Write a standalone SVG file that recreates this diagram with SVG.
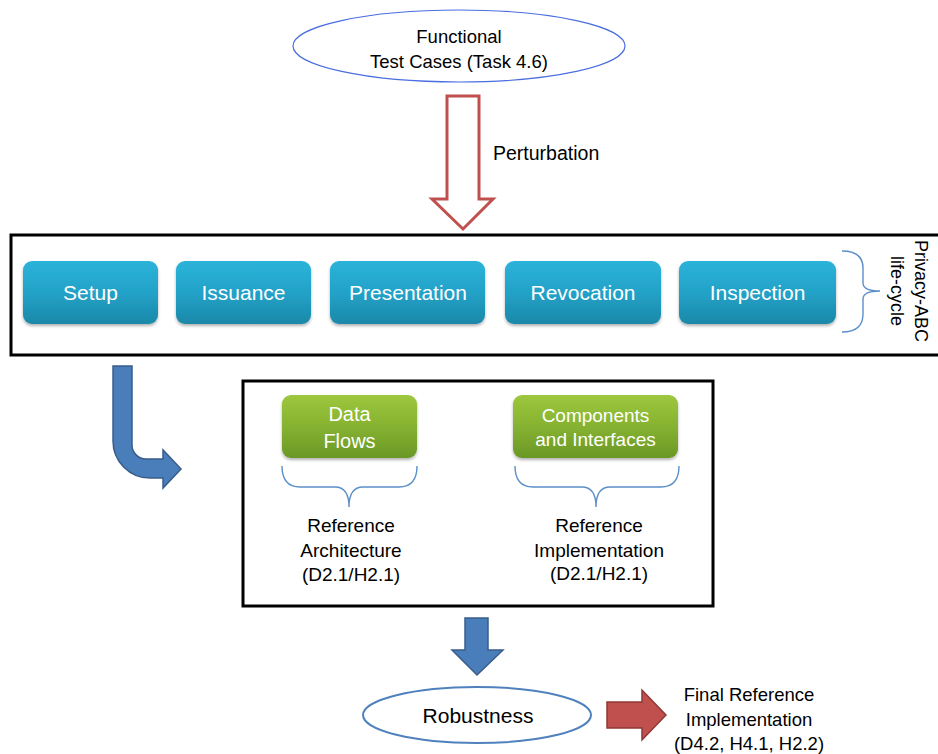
<svg xmlns="http://www.w3.org/2000/svg" width="938" height="754" viewBox="0 0 938 754">
<style>
text{font-family:"Liberation Sans",Arial,sans-serif;fill:#000;text-anchor:middle}
.btn text{fill:#fff;font-size:21px}
.gbtn text{fill:#fff}
.brace{fill:none;stroke:#5b8fc9;stroke-width:1.4}
.frame{fill:none;stroke:#000;stroke-width:3}
</style>
<defs>
<linearGradient id="gBlue" x1="0" y1="0" x2="0" y2="1">
<stop offset="0" stop-color="#2bb3da"/>
<stop offset="0.5" stop-color="#23a2c8"/>
<stop offset="1" stop-color="#1a88a8"/>
</linearGradient>
<linearGradient id="gGreen" x1="0" y1="0" x2="0" y2="1">
<stop offset="0" stop-color="#9dc73d"/>
<stop offset="0.5" stop-color="#86b231"/>
<stop offset="1" stop-color="#6a9826"/>
</linearGradient>
<filter id="sh" x="-10%" y="-10%" width="120%" height="130%">
<feDropShadow dx="0" dy="2" stdDeviation="1.5" flood-color="#000" flood-opacity="0.3"/>
</filter>
</defs>

<g id="functional-test-cases">
<ellipse cx="459" cy="46" rx="166" ry="36" fill="#fff" stroke="#4a6ee0" stroke-width="1.2"/>
<text x="459" y="43" font-size="18.5">Functional</text>
<text x="459" y="68" font-size="18.5">Test Cases (Task 4.6)</text>
</g>

<g id="lifecycle-frame">
<rect class="frame" x="11" y="235" width="940" height="120"/>
</g>

<g id="setup" class="btn">
<rect x="23" y="261" width="135" height="63" rx="9" fill="url(#gBlue)" filter="url(#sh)"/>
<text x="90.5" y="300">Setup</text>
</g>
<g id="issuance" class="btn">
<rect x="176" y="261" width="135" height="63" rx="9" fill="url(#gBlue)" filter="url(#sh)"/>
<text x="243.5" y="300">Issuance</text>
</g>
<g id="presentation" class="btn">
<rect x="330" y="261" width="155" height="63" rx="9" fill="url(#gBlue)" filter="url(#sh)"/>
<text x="408" y="300">Presentation</text>
</g>
<g id="revocation" class="btn">
<rect x="505" y="261" width="156" height="63" rx="9" fill="url(#gBlue)" filter="url(#sh)"/>
<text x="583" y="300">Revocation</text>
</g>
<g id="inspection" class="btn">
<rect x="679" y="261" width="157" height="63" rx="9" fill="url(#gBlue)" filter="url(#sh)"/>
<text x="757.5" y="300">Inspection</text>
</g>

<g id="privacy-abc-lifecycle">
<path class="brace" d="M842,251 Q863,251 863,268 V283 Q863,291 880,291 Q863,291 863,299 V314 Q863,332 842,332"/>
<text transform="translate(915,291) rotate(90)" x="0" y="0" font-size="18">Privacy-ABC</text>
<text transform="translate(891,291) rotate(90)" x="0" y="0" font-size="18">life-cycle</text>
</g>

<g id="reference-frame">
<rect class="frame" x="243" y="381" width="470" height="225"/>
</g>

<g id="data-flows" class="gbtn">
<rect x="282" y="395" width="135" height="63" rx="9" fill="url(#gGreen)" filter="url(#sh)"/>
<text x="349.5" y="421" font-size="20">Data</text>
<text x="349.5" y="448" font-size="20">Flows</text>
</g>
<g id="components-interfaces" class="gbtn">
<rect x="513" y="395" width="165" height="63" rx="9" fill="url(#gGreen)" filter="url(#sh)"/>
<text x="595.5" y="422" font-size="19">Components</text>
<text x="595.5" y="446" font-size="19">and Interfaces</text>
</g>

<g id="reference-architecture">
<path class="brace" d="M282,466 Q282,487 300,487 H335 Q349,487 349,507 Q349,487 363,487 H399 Q417,487 417,466"/>
<text x="351" y="532" font-size="19">Reference</text>
<text x="351" y="557" font-size="19">Architecture</text>
<text x="351" y="581" font-size="19">(D2.1/H2.1)</text>
</g>

<g id="reference-implementation">
<path class="brace" d="M515,466 Q515,487 533,487 H582 Q596,487 596,507 Q596,487 610,487 H661 Q679,487 679,466"/>
<text x="599" y="532" font-size="19">Reference</text>
<text x="599" y="557" font-size="19">Implementation</text>
<text x="599" y="580" font-size="19">(D2.1/H2.1)</text>
</g>

<g id="robustness">
<ellipse cx="477" cy="715" rx="114" ry="28" fill="#fff" stroke="#4f81bd" stroke-width="2"/>
<text x="478" y="723" font-size="21">Robustness</text>
</g>

<g id="final-reference-implementation">
<text x="749" y="701" font-size="18.5">Final Reference</text>
<text x="749" y="726" font-size="18.5">Implementation</text>
<text x="749" y="750" font-size="18.5">(D4.2, H4.1, H2.2)</text>
</g>

<g id="connectors">
<path id="perturbation-arrow" d="M447,96 H479 V199 H493 L463,229 L432,199 H447 Z" fill="#fff" stroke="#c0504d" stroke-width="3" stroke-linejoin="miter"/>
<text x="493" y="160" font-size="19.5" style="text-anchor:start">Perturbation</text>
<path id="bent-arrow" d="M113,366 H132 V445 A14,14 0 0 0 146,459 H163 V450 L181,469 L163,488 V478 H150 A37,37 0 0 1 113,441 Z" fill="#4a7ebb" stroke="#385d8a" stroke-width="1.5"/>
<path id="down-arrow" d="M465,618 H488 V650 H503 L477,675 L452,650 H465 Z" fill="#4a7ebb" stroke="#385d8a" stroke-width="1.5"/>
<path id="right-arrow" d="M607,702 H642 V690 L666,715 L642,740 V728 H607 Z" fill="#c0504d" stroke="#8c3836" stroke-width="1.5"/>
</g>
</svg>
